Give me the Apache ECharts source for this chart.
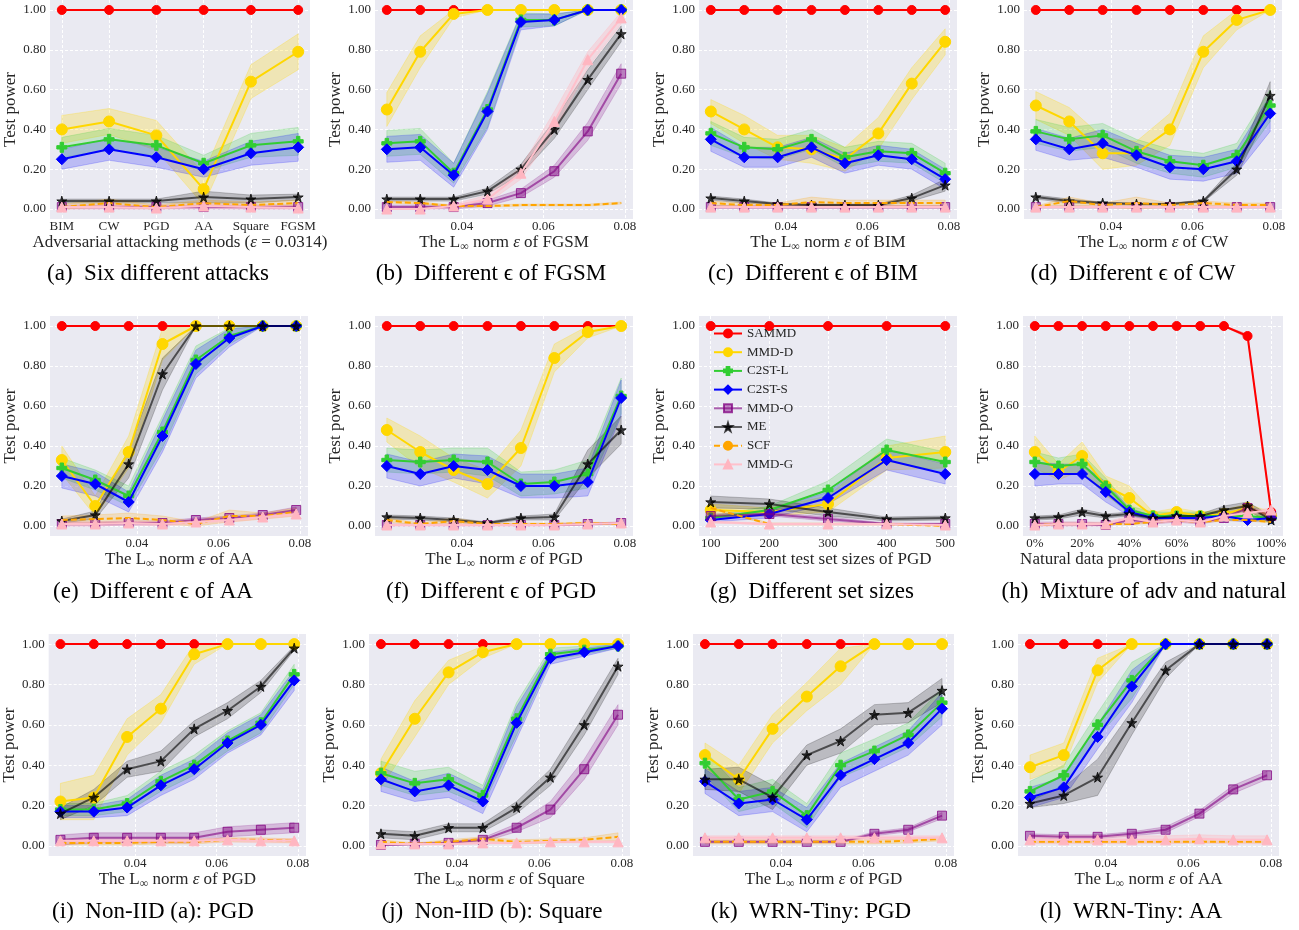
<!DOCTYPE html>
<html><head><meta charset="utf-8">
<script src="https://cdn.jsdelivr.net/npm/echarts/dist/echarts.min.js"></script>
<style>html,body{margin:0;padding:0;background:#fff}#c{width:1299px;height:930px}</style>
</head><body><div id="c"></div>
<script>
// ---------------- DATA ----------------
const NAMES = ['SAMMD','MMD-D','C2ST-L','C2ST-S','MMD-O','ME','SCF','MMD-G'];
const attackCats = ['BIM','CW','PGD','AA','Square','FGSM'];
const attackX = [0,1,2,3,4,5];
const epsX = [0.0216,0.0298,0.0380,0.0463,0.0545,0.0627,0.0709,0.0791];
const epsTicks = [0.04,0.06,0.08];
const sizeX = [100,200,300,400,500];
const mixX = [0,10,20,30,40,50,60,70,80,90,100];
const mixTicks = [0,20,40,60,80,100];
const yTicks = [0,0.2,0.4,0.6,0.8,1.0];

// (a) six attacks  — rows: SAMMD, MMD-D, C2ST-L, C2ST-S, MMD-O, ME, SCF, MMD-G
const aMean = [
 [1,1,1,1,1,1],
 [0.40,0.44,0.37,0.10,0.64,0.79],
 [0.31,0.35,0.32,0.23,0.32,0.34],
 [0.25,0.30,0.26,0.20,0.28,0.31],
 [0.01,0.01,0.01,0.01,0.01,0.01],
 [0.04,0.04,0.04,0.06,0.05,0.06],
 [0.01,0.03,0.01,0.03,0.02,0.03],
 [0.01,0.01,0.005,0.015,0.01,0.005]];
const aErr = [
 [0,0,0,0,0,0],
 [0.07,0.065,0.075,0.08,0.085,0.09],
 [0.05,0.055,0.05,0.04,0.06,0.07],
 [0.05,0.055,0.05,0.04,0.06,0.07],
 [0.01,0.01,0.01,0.01,0.01,0.01],
 [0.01,0.01,0.01,0.03,0.02,0.015],
 [0.015,0.02,0.01,0.015,0.015,0.015],
 [0.01,0.01,0.01,0.01,0.01,0.01]];

// (b) FGSM
const bMean = [
 [1,1,1,1,1,1,1,1],
 [0.50,0.79,0.98,1,1,1,1,1],
 [0.33,0.34,0.18,0.50,0.95,0.95,1,1],
 [0.30,0.31,0.17,0.49,0.94,0.95,1,1],
 [0.01,0.01,0.01,0.03,0.08,0.19,0.39,0.68],
 [0.05,0.05,0.05,0.09,0.20,0.40,0.65,0.88],
 [0.035,0.03,0.015,0.015,0.02,0.02,0.02,0.03],
 [0.0,0.0,0.015,0.05,0.18,0.44,0.75,0.96]];
const bErr = [
 [0,0,0,0,0,0,0,0],
 [0.085,0.08,0.02,0,0,0,0,0],
 [0.065,0.065,0.05,0.09,0.035,0.03,0,0],
 [0.065,0.065,0.06,0.09,0.04,0.03,0,0],
 [0.01,0.01,0.01,0.015,0.02,0.03,0.045,0.05],
 [0.01,0.01,0.01,0.015,0.025,0.045,0.05,0.04],
 [0.005,0.005,0.005,0.005,0.005,0.005,0.005,0.005],
 [0.005,0.005,0.01,0.02,0.03,0.05,0.04,0.03]];

// (c) BIM
const cMean = [
 [1,1,1,1,1,1,1,1],
 [0.49,0.40,0.31,0.30,0.25,0.38,0.63,0.84],
 [0.38,0.31,0.30,0.35,0.26,0.29,0.28,0.18],
 [0.35,0.26,0.26,0.31,0.23,0.27,0.25,0.15],
 [0.01,0.01,0.01,0.01,0.01,0.01,0.01,0.01],
 [0.055,0.04,0.025,0.02,0.02,0.02,0.055,0.12],
 [0.03,0.02,0.02,0.035,0.03,0.03,0.03,0.03],
 [0.01,0.01,0.01,0.01,0.01,0.01,0.01,0.01]];
const cErr = [
 [0,0,0,0,0,0,0,0],
 [0.06,0.07,0.06,0.07,0.06,0.08,0.08,0.065],
 [0.06,0.05,0.05,0.05,0.05,0.05,0.05,0.05],
 [0.06,0.05,0.05,0.05,0.05,0.05,0.05,0.05],
 [0.008,0.008,0.008,0.008,0.008,0.008,0.008,0.008],
 [0.01,0.01,0.005,0.005,0.005,0.005,0.015,0.03],
 [0.01,0.01,0.01,0.025,0.015,0.015,0.015,0.015],
 [0.005,0.005,0.005,0.005,0.005,0.005,0.005,0.005]];

// (d) CW
const dMean = [
 [1,1,1,1,1,1,1,1],
 [0.52,0.44,0.28,0.28,0.40,0.79,0.95,1],
 [0.39,0.35,0.37,0.29,0.24,0.22,0.27,0.52],
 [0.35,0.30,0.33,0.27,0.21,0.20,0.24,0.48],
 [0.01,0.01,0.01,0.01,0.01,0.01,0.01,0.01],
 [0.06,0.04,0.03,0.025,0.025,0.04,0.20,0.57],
 [0.01,0.04,0.02,0.03,0.02,0.03,0.02,0.02],
 [0.01,0.01,0.01,0.01,0.01,0.01,0.01,0.01]];
const dErr = [
 [0,0,0,0,0,0,0,0],
 [0.07,0.07,0.08,0.06,0.08,0.08,0.05,0],
 [0.06,0.06,0.06,0.06,0.06,0.06,0.06,0.08],
 [0.055,0.055,0.07,0.06,0.06,0.06,0.06,0.09],
 [0.005,0.005,0.005,0.005,0.005,0.005,0.005,0.005],
 [0.01,0.01,0.005,0.005,0.005,0.005,0.03,0.07],
 [0.005,0.02,0.01,0.03,0.01,0.01,0.01,0.01],
 [0.005,0.005,0.005,0.005,0.005,0.005,0.005,0.005]];

// (e) AA
const eMean = [
 [1,1,1,1,1,1,1,1],
 [0.33,0.10,0.37,0.91,1,1,1,1],
 [0.29,0.23,0.15,0.47,0.83,0.95,1,1],
 [0.25,0.21,0.12,0.45,0.81,0.94,1,1],
 [0.01,0.01,0.015,0.015,0.03,0.04,0.055,0.08],
 [0.025,0.055,0.31,0.76,1,1,1,1],
 [0.03,0.035,0.04,0.03,0.01,0.05,0.05,0.07],
 [0.01,0.01,0.015,0.01,0.02,0.03,0.045,0.06]];
const eErr = [
 [0,0,0,0,0,0,0,0],
 [0.07,0.05,0.08,0.08,0,0,0,0],
 [0.05,0.05,0.05,0.08,0.07,0.04,0,0],
 [0.06,0.06,0.05,0.08,0.07,0.045,0,0],
 [0.01,0.01,0.01,0.01,0.01,0.01,0.01,0.015],
 [0.01,0.02,0.07,0.08,0,0,0,0],
 [0.02,0.02,0.025,0.02,0.01,0.03,0.015,0.02],
 [0.01,0.01,0.01,0.01,0.01,0.01,0.01,0.01]];

// (f) PGD
const fMean = [
 [1,1,1,1,1,1,1,1],
 [0.48,0.37,0.28,0.21,0.39,0.84,0.97,1],
 [0.33,0.32,0.33,0.32,0.21,0.22,0.26,0.65],
 [0.30,0.26,0.30,0.28,0.20,0.20,0.22,0.64],
 [0.005,0.005,0.005,0.005,0.005,0.005,0.01,0.015],
 [0.045,0.04,0.03,0.015,0.04,0.045,0.31,0.48],
 [0.03,0.01,0.025,0.01,0.01,0.01,0.015,0.01],
 [0.005,0.005,0.005,0.005,0.005,0.005,0.01,0.015]];
const fErr = [
 [0,0,0,0,0,0,0,0],
 [0.06,0.08,0.06,0.07,0.09,0.07,0.03,0],
 [0.06,0.06,0.06,0.07,0.06,0.06,0.07,0.09],
 [0.06,0.06,0.06,0.07,0.06,0.06,0.07,0.09],
 [0.005,0.005,0.005,0.005,0.005,0.005,0.005,0.005],
 [0.01,0.01,0.01,0.005,0.01,0.015,0.07,0.07],
 [0.01,0.005,0.015,0.005,0.005,0.005,0.005,0.005],
 [0.005,0.005,0.005,0.005,0.005,0.005,0.005,0.005]];

// (g) set sizes
const gMean = [
 [1,1,1,1,1],
 [0.08,0.07,0.11,0.34,0.37],
 [0.04,0.08,0.18,0.38,0.32],
 [0.03,0.06,0.14,0.33,0.26],
 [0.05,0.06,0.035,0.01,0.01],
 [0.12,0.11,0.07,0.035,0.04],
 [0.09,0.01,0.01,0.01,0.0],
 [0.02,0.01,0.01,0.01,0.005]];
const gErr = [
 [0,0,0,0,0],
 [0.03,0.02,0.04,0.06,0.08],
 [0.01,0.02,0.045,0.055,0.05],
 [0.01,0.02,0.03,0.05,0.05],
 [0.01,0.01,0.01,0.005,0.005],
 [0.03,0.025,0.02,0.01,0.01],
 [0.005,0.005,0.005,0.005,0.005],
 [0.005,0.005,0.005,0.005,0.005]];

// (h) mixture
const hMean = [
 [1,1,1,1,1,1,1,1,1,0.95,0.07],
 [0.37,0.27,0.35,0.20,0.14,0.05,0.07,0.05,0.06,0.09,0.05],
 [0.32,0.30,0.31,0.20,0.08,0.05,0.05,0.05,0.05,0.05,0.04],
 [0.26,0.26,0.26,0.17,0.07,0.04,0.04,0.04,0.05,0.03,0.04],
 [0.01,0.01,0.01,0.005,0.03,0.02,0.03,0.02,0.04,0.09,0.05],
 [0.04,0.045,0.07,0.05,0.06,0.04,0.05,0.05,0.08,0.10,0.03],
 [0.005,0.01,0.01,0.01,0.01,0.02,0.03,0.02,0.03,0.03,0.02],
 [0.005,0.01,0.01,0.01,0.04,0.02,0.03,0.02,0.05,0.065,0.08]];
const hErr = [
 [0,0,0,0,0,0,0,0,0,0.01,0.01],
 [0.08,0.04,0.07,0.05,0.06,0.02,0.02,0.02,0.02,0.02,0.02],
 [0.05,0.04,0.05,0.04,0.02,0.02,0.02,0.02,0.02,0.02,0.02],
 [0.06,0.05,0.05,0.05,0.02,0.01,0.01,0.01,0.02,0.01,0.01],
 [0.01,0.01,0.01,0.01,0.01,0.01,0.01,0.01,0.01,0.01,0.01],
 [0.01,0.01,0.015,0.01,0.01,0.01,0.01,0.01,0.02,0.02,0.02],
 [0.005,0.005,0.005,0.005,0.005,0.005,0.005,0.005,0.005,0.005,0.005],
 [0.01,0.01,0.01,0.01,0.01,0.01,0.01,0.01,0.01,0.01,0.01]];

// (i) Non-IID (a): PGD
const iMean = [
 [1,1,1,1,1,1,1,1],
 [0.22,0.24,0.54,0.68,0.95,1,1,1],
 [0.18,0.18,0.21,0.32,0.40,0.52,0.61,0.85],
 [0.17,0.17,0.19,0.30,0.38,0.51,0.60,0.82],
 [0.03,0.04,0.04,0.04,0.04,0.07,0.08,0.09],
 [0.16,0.24,0.38,0.42,0.58,0.67,0.79,0.98],
 [0.015,0.015,0.015,0.02,0.02,0.03,0.03,0.025],
 [0.025,0.025,0.025,0.025,0.025,0.03,0.025,0.025]];
const iErr = [
 [0,0,0,0,0,0,0,0],
 [0.09,0.11,0.09,0.07,0.05,0,0,0],
 [0.03,0.03,0.04,0.05,0.05,0.05,0.05,0.05],
 [0.03,0.03,0.04,0.05,0.05,0.05,0.05,0.05],
 [0.025,0.025,0.025,0.025,0.025,0.025,0.025,0.025],
 [0.03,0.04,0.04,0.05,0.04,0.04,0.03,0.01],
 [0.01,0.01,0.01,0.01,0.01,0.01,0.01,0.01],
 [0.01,0.01,0.01,0.01,0.01,0.01,0.01,0.01]];

// (j) Non-IID (b): Square
const jMean = [
 [1,1,1,1,1,1,1,1],
 [0.36,0.63,0.86,0.96,1,1,1,1],
 [0.36,0.31,0.33,0.25,0.63,0.95,0.97,0.99],
 [0.33,0.27,0.30,0.22,0.61,0.93,0.96,0.99],
 [0.005,0.01,0.015,0.03,0.09,0.18,0.38,0.65],
 [0.06,0.05,0.09,0.09,0.19,0.34,0.60,0.89],
 [0.02,0.01,0.02,0.035,0.02,0.025,0.03,0.045],
 [0.01,0.01,0.01,0.015,0.015,0.02,0.02,0.02]];
const jErr = [
 [0,0,0,0,0,0,0,0],
 [0.07,0.09,0.06,0.03,0,0,0,0],
 [0.06,0.06,0.06,0.05,0.08,0.03,0.02,0.01],
 [0.06,0.05,0.06,0.06,0.08,0.03,0.02,0.01],
 [0.005,0.005,0.005,0.01,0.02,0.04,0.05,0.05],
 [0.02,0.02,0.02,0.02,0.03,0.04,0.05,0.04],
 [0.01,0.005,0.01,0.01,0.01,0.01,0.01,0.02],
 [0.005,0.005,0.005,0.005,0.005,0.005,0.005,0.005]];

// (k) WRN-Tiny: PGD
const kMean = [
 [1,1,1,1,1,1,1,1],
 [0.45,0.33,0.58,0.74,0.89,1,1,1],
 [0.41,0.23,0.27,0.15,0.40,0.47,0.55,0.71],
 [0.32,0.21,0.23,0.13,0.35,0.43,0.51,0.68],
 [0.02,0.02,0.02,0.02,0.02,0.06,0.08,0.15],
 [0.33,0.33,0.24,0.45,0.52,0.65,0.66,0.77],
 [0.02,0.02,0.02,0.02,0.02,0.02,0.025,0.035],
 [0.04,0.04,0.04,0.04,0.04,0.04,0.04,0.04]];
const kErr = [
 [0,0,0,0,0,0,0,0],
 [0.06,0.07,0.07,0.07,0.09,0,0,0],
 [0.06,0.06,0.06,0.06,0.06,0.06,0.06,0.07],
 [0.06,0.06,0.06,0.06,0.06,0.06,0.06,0.08],
 [0.005,0.005,0.005,0.005,0.005,0.01,0.01,0.015],
 [0.05,0.06,0.06,0.05,0.06,0.05,0.05,0.06],
 [0.01,0.01,0.01,0.01,0.01,0.01,0.01,0.01],
 [0.01,0.01,0.01,0.01,0.01,0.01,0.01,0.01]];

// (l) WRN-Tiny: AA
const lMean = [
 [1,1,1,1,1,1,1,1],
 [0.39,0.45,0.87,1,1,1,1,1],
 [0.27,0.35,0.60,0.82,1,1,1,1],
 [0.24,0.29,0.54,0.79,1,1,1,1],
 [0.05,0.045,0.045,0.06,0.08,0.16,0.28,0.35],
 [0.21,0.25,0.34,0.61,0.87,1,1,1],
 [0.02,0.02,0.02,0.02,0.02,0.02,0.02,0.02],
 [0.03,0.03,0.03,0.03,0.03,0.035,0.03,0.03]];
const lErr = [
 [0,0,0,0,0,0,0,0],
 [0.06,0.06,0.06,0,0,0,0,0],
 [0.05,0.05,0.06,0.09,0,0,0,0],
 [0.05,0.05,0.06,0.08,0,0,0,0],
 [0.01,0.01,0.01,0.01,0.015,0.015,0.02,0.02],
 [0.02,0.04,0.09,0.06,0.04,0,0,0],
 [0.005,0.005,0.005,0.005,0.005,0.005,0.005,0.005],
 [0.02,0.02,0.02,0.02,0.02,0.02,0.02,0.02]];

// ---------------- STYLE / LAYOUT ----------------
const SERIF = '"Liberation Serif","Times New Roman",serif';
const TXT = '#262626';
const STAR = 'path://M50,0 L61,35 L98,35 L68,57 L79,91 L50,70 L21,91 L32,57 L2,35 L39,35 Z';
const PLUS = 'path://M33,0 H67 V33 H100 V67 H67 V100 H33 V67 H0 V33 H33 Z';
const STY = [
 {line:'#ff0000', fill:'#ff0000', edge:'#ff0000', band:'rgba(255,0,0,0.2)', sym:'circle', size:9, dash:'solid', w:2},
 {line:'#ffd700', fill:'#ffd700', edge:'#ffd700', band:'rgba(255,215,0,0.25)', sym:'circle', size:11, dash:'solid', w:2},
 {line:'#32cd32', fill:'#32cd32', edge:'#32cd32', band:'rgba(50,205,50,0.2)', sym:PLUS, size:10, dash:'solid', w:2},
 {line:'#0000ff', fill:'#0000ff', edge:'#0000ff', band:'rgba(0,0,255,0.2)', sym:'diamond', size:11, dash:'solid', w:2},
 {line:'rgba(128,0,128,0.6)', fill:'rgba(128,0,128,0.45)', edge:'rgba(128,0,128,0.75)', band:'rgba(128,0,128,0.2)', sym:'rect', size:9, dash:'solid', w:2},
 {line:'rgba(0,0,0,0.6)', fill:'rgba(0,0,0,0.75)', edge:'rgba(0,0,0,0.75)', band:'rgba(0,0,0,0.2)', sym:STAR, size:10, dash:'solid', w:2},
 {line:'#ffa500', fill:'#ffa500', edge:'#ffa500', band:'rgba(255,165,0,0.2)', sym:'none', size:0, dash:[6,3], w:2},
 {line:'#ffc0cb', fill:'#ffb6c1', edge:'#ffb6c1', band:'rgba(255,182,193,0.35)', sym:'triangle', size:10, dash:'solid', w:2}
];

function epsName(att){
  return '{n|The L}{s|\u221e}{n| norm }{e|\u03b5}{n| of ' + att + '}';
}
const RICH = {
  n:{fontFamily:SERIF, fontSize:17, color:TXT, lineHeight:20},
  s:{fontFamily:SERIF, fontSize:12, color:TXT, lineHeight:12, verticalAlign:'bottom'},
  e:{fontFamily:SERIF, fontSize:17, color:TXT, fontStyle:'italic', lineHeight:20}
};

const ROWS = [{top:-2, height:221, cap:274}, {top:316, height:220, cap:592}, {top:634, height:222, cap:912}];

const panels = [
 {xs:attackX, mean:aMean, err:aErr, kind:'attack', row:0, left:50, width:260, name:'{n|Adversarial attacking methods (}{e|\u03b5}{n| = 0.0314)}', cap:'(a)  Six different attacks', capX:158},
 {xs:epsX, mean:bMean, err:bErr, kind:'eps', row:0, left:375, width:258, name:epsName('FGSM'), cap:'(b)  Different \u03f5 of FGSM', capX:491},
 {xs:epsX, mean:cMean, err:cErr, kind:'eps', row:0, left:699, width:258, name:epsName('BIM'), cap:'(c)  Different \u03f5 of BIM', capX:813},
 {xs:epsX, mean:dMean, err:dErr, kind:'eps', row:0, left:1024, width:258, name:epsName('CW'), cap:'(d)  Different \u03f5 of CW', capX:1133},
 {xs:epsX, mean:eMean, err:eErr, kind:'eps', row:1, left:50, width:258, name:epsName('AA'), cap:'(e)  Different \u03f5 of AA', capX:153},
 {xs:epsX, mean:fMean, err:fErr, kind:'eps', row:1, left:375, width:258, name:epsName('PGD'), cap:'(f)  Different \u03f5 of PGD', capX:491},
 {xs:sizeX, mean:gMean, err:gErr, kind:'size', row:1, left:699, width:258, name:'{n|Different test set sizes of PGD}', cap:'(g)  Different set sizes', capX:812},
 {xs:mixX, mean:hMean, err:hErr, kind:'mix', row:1, left:1023, width:260, name:'{n|Natural data proportions in the mixture}', cap:'(h)  Mixture of adv and natural', capX:1144},
 {xs:epsX, mean:iMean, err:iErr, kind:'eps', row:2, left:46, width:260, name:epsName('PGD'), cap:'(i)  Non-IID (a): PGD', capX:153},
 {xs:epsX, mean:jMean, err:jErr, kind:'eps', row:2, left:369, width:261, name:epsName('Square'), cap:'(j)  Non-IID (b): Square', capX:492},
 {xs:epsX, mean:kMean, err:kErr, kind:'eps', row:2, left:693, width:261, name:epsName('PGD'), cap:'(k)  WRN-Tiny: PGD', capX:811},
 {xs:epsX, mean:lMean, err:lErr, kind:'eps', row:2, left:1018, width:261, name:epsName('AA'), cap:'(l)  WRN-Tiny: AA', capX:1131}
];

function xCfg(kind){
  if (kind === 'attack') return {min:-0.25, max:5.25, ticks:attackX, fmt:v => attackCats[Math.round(v)]};
  if (kind === 'size') return {min:80, max:520, ticks:sizeX, fmt:v => String(v)};
  if (kind === 'mix') return {min:-5, max:105, ticks:mixTicks, fmt:v => v + '%'};
  return {min:0.0187, max:0.0820, ticks:epsTicks, fmt:v => v.toFixed(2)};
}

const grids = [], xAxes = [], yAxes = [], series = [], graphics = [];
const splitStyle = {color:'#ffffff', type:[3,2], width:1};

panels.forEach((p, gi) => {
  const R = ROWS[p.row];
  grids.push({left:p.left, top:R.top, width:p.width, height:R.height, show:true, backgroundColor:'#eaeaf2', borderWidth:0});
  const xc = xCfg(p.kind);
  xAxes.push({
    type:'value', gridIndex:gi, min:xc.min, max:xc.max,
    axisLine:{show:false}, axisTick:{show:false, customValues:xc.ticks},
    axisLabel:{customValues:xc.ticks, formatter:xc.fmt, margin:1, fontFamily:SERIF, fontSize:13, color:TXT},
    splitLine:{show:true, lineStyle:splitStyle},
    name:p.name, nameLocation:'middle', nameGap:11,
    nameTextStyle:{fontFamily:SERIF, fontSize:17, color:TXT, rich:RICH}
  });
  yAxes.push({
    type:'value', gridIndex:gi, min:-0.05, max:1.05,
    axisLine:{show:false}, axisTick:{show:false, customValues:yTicks},
    axisLabel:{customValues:yTicks, formatter:v => v.toFixed(2), margin:4, fontFamily:SERIF, fontSize:13, color:TXT},
    splitLine:{show:true, lineStyle:splitStyle},
    name:'Test power', nameLocation:'middle', nameGap:25,
    nameTextStyle:{fontFamily:SERIF, fontSize:17, color:TXT}
  });
  // bands
  NAMES.forEach((nm, k) => {
    const m = p.mean[k], e = p.err[k];
    if (!e.some(v => v > 0)) return;
    const lo = m.map((v, i) => Math.max(0, v - e[i]));
    const hi = m.map((v, i) => Math.min(1, v + e[i]));
    const xs = p.xs;
    series.push({
      type:'custom', name:'band-' + nm, xAxisIndex:gi, yAxisIndex:gi, silent:true, z:2,
      data:[[xs[0], m[0]]],
      renderItem:(params, api) => {
        const pts = [];
        for (let i = 0; i < xs.length; i++) pts.push(api.coord([xs[i], hi[i]]));
        for (let i = xs.length - 1; i >= 0; i--) pts.push(api.coord([xs[i], lo[i]]));
        return {type:'polygon', shape:{points:pts}, style:{fill:STY[k].band, stroke:STY[k].band, lineWidth:1}};
      }
    });
  });
  // lines
  NAMES.forEach((nm, k) => {
    const s = STY[k];
    series.push({
      type:'line', name:nm, xAxisIndex:gi, yAxisIndex:gi, z:10 + k,
      data:p.xs.map((x, i) => [x, p.mean[k][i]]),
      symbol:s.sym, symbolSize:s.size, showSymbol:s.sym !== 'none',
      lineStyle:{color:s.line, width:s.w, type:s.dash},
      itemStyle:{color:s.fill, borderColor:s.edge, borderWidth:1},
      emphasis:{disabled:true}, silent:true
    });
  });
  graphics.push({type:'text', x:p.capX, y:R.cap, style:{text:p.cap, font:'23px ' + SERIF, fill:'#000', textAlign:'center', textVerticalAlign:'middle'}});
});

const chart = echarts.init(document.getElementById('c'), null, {renderer:'canvas'});
chart.setOption({
  animation:false,
  backgroundColor:'#ffffff',
  grid:grids, xAxis:xAxes, yAxis:yAxes, series:series, graphic:graphics,
  legend:{
    data:NAMES, orient:'vertical', left:708, top:322, itemWidth:28, itemHeight:10, itemGap:5.7,
    selectedMode:false, textStyle:{fontFamily:SERIF, fontSize:13, color:TXT}
  }
});
</script></body></html>
